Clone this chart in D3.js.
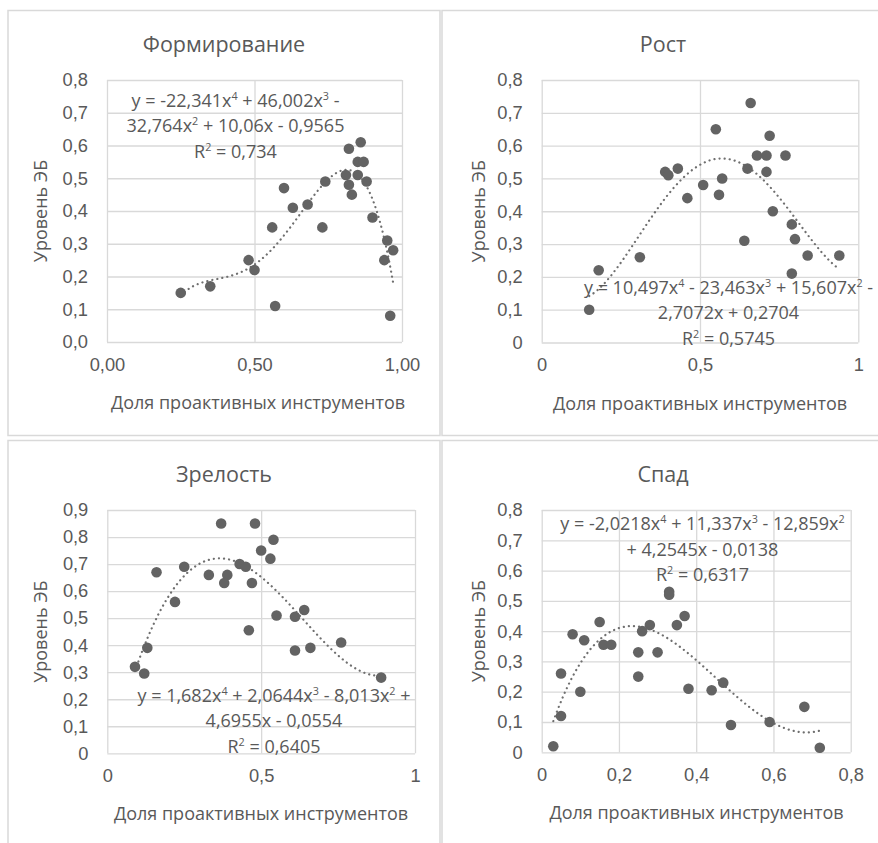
<!DOCTYPE html>
<html>
<head>
<meta charset="utf-8">
<script src="https://cdn.jsdelivr.net/npm/d3@7"></script>
<style>
  html, body { margin: 0; padding: 0; background: #fff; }
  svg { display: block; font-family: "Open Sans", "Noto Sans", sans-serif; }
</style>
</head>
<body>
<svg id="chart" width="878" height="843"></svg>
<script>
// ---------- DATA ----------
const titles = ["Формирование", "Рост", "Зрелость", "Спад"];
const xAxisTitle = "Доля проактивных инструментов";
const yAxisTitle = "Уровень ЭБ";

// Формирование
const formX = [0.60,0.63,0.68,0.74,0.82,0.86,0.85,0.87,0.81,0.85,0.82,0.83,0.88,0.90,0.56,0.73,0.95,0.97,0.94,0.48,0.50,0.35,0.25,0.57,0.96];
const formY = [0.47,0.41,0.42,0.49,0.59,0.61,0.55,0.55,0.51,0.51,0.48,0.45,0.49,0.38,0.35,0.35,0.31,0.28,0.25,0.25,0.22,0.17,0.15,0.11,0.08];
const formCoef = [-0.9565, 10.06, -32.764, 46.002, -22.341];
const formEq = ["y = -22,341x^4 + 46,002x^3 -", "32,764x^2 + 10,06x - 0,9565", "R^2 = 0,734"];

// Рост
const growX = [0.66,0.55,0.72,0.68,0.71,0.77,0.65,0.71,0.57,0.51,0.56,0.46,0.39,0.40,0.43,0.73,0.79,0.80,0.64,0.31,0.84,0.94,0.18,0.79,0.15];
const growY = [0.73,0.65,0.63,0.57,0.57,0.57,0.53,0.52,0.50,0.48,0.45,0.44,0.52,0.51,0.53,0.40,0.36,0.315,0.31,0.26,0.265,0.265,0.22,0.21,0.10];
const growCoef = [0.2704, -2.7072, 15.607, -23.463, 10.497];
const growEq = ["y = 10,497x^4 - 23,463x^3 + 15,607x^2 -", "2,7072x + 0,2704", "R^2 = 0,5745"];

// Зрелость
const matX = [0.37,0.48,0.54,0.50,0.53,0.43,0.45,0.25,0.16,0.33,0.39,0.38,0.47,0.22,0.55,0.61,0.64,0.46,0.76,0.66,0.61,0.13,0.09,0.12,0.89];
const matY = [0.85,0.85,0.79,0.75,0.72,0.70,0.69,0.69,0.67,0.66,0.66,0.63,0.63,0.56,0.51,0.505,0.53,0.455,0.41,0.39,0.38,0.39,0.32,0.295,0.28];
const matCoef = [-0.0554, 4.6955, -8.013, 2.0644, 1.682];
const matEq = ["y = 1,682x^4 + 2,0644x^3 - 8,013x^2 +", "4,6955x - 0,0554", "R^2 = 0,6405"];

// Спад
const declX = [0.33,0.33,0.37,0.35,0.28,0.26,0.15,0.08,0.11,0.16,0.18,0.25,0.30,0.05,0.25,0.10,0.38,0.44,0.47,0.49,0.05,0.59,0.68,0.03,0.72];
const declY = [0.53,0.52,0.45,0.42,0.42,0.40,0.43,0.39,0.37,0.355,0.355,0.33,0.33,0.26,0.25,0.20,0.21,0.205,0.23,0.09,0.12,0.10,0.15,0.02,0.015];
const declCoef = [-0.0138, 4.2545, -12.859, 11.337, -2.0218];
const declEq = ["y = -2,0218x^4 + 11,337x^3 - 12,859x^2", "+ 4,2545x - 0,0138", "R^2 = 0,6317"];

// Ticks
const xTicks1 = [0, 0.5, 1];       const xLabels1 = ["0,00", "0,50", "1,00"];
const xTicks2 = [0, 0.5, 1];       const xLabels2 = ["0", "0,5", "1"];
const xTicks4 = [0, 0.2, 0.4, 0.6, 0.8]; const xLabels4 = ["0", "0,2", "0,4", "0,6", "0,8"];
const yTicks8 = [0,0.1,0.2,0.3,0.4,0.5,0.6,0.7,0.8];
const yLabels1 = ["0,0","0,1","0,2","0,3","0,4","0,5","0,6","0,7","0,8"];
const yLabels8 = ["0","0,1","0,2","0,3","0,4","0,5","0,6","0,7","0,8"];
const yTicks9 = [0,0.1,0.2,0.3,0.4,0.5,0.6,0.7,0.8,0.9];
const yLabels9 = ["0","0,1","0,2","0,3","0,4","0,5","0,6","0,7","0,8","0,9"];

// ---------- LAYOUT ----------
const panels = [
  { title: titles[0], xs: formX, ys: formY, coef: formCoef, eq: formEq,
    box: [8, 10.5, 432, 425], plot: {l:107, r:402, t:80, b:342},
    xDom: [0,1], yDom: [0,0.8], xT: xTicks1, xL: xLabels1, yT: yTicks8, yL: yLabels1,
    titleX: 224, titleY: 43, yTitleX: 40, eqX: 235.5, eqY: 100, xTitleX: 258 },
  { title: titles[1], xs: growX, ys: growY, coef: growCoef, eq: growEq,
    box: [442, 10.5, 442, 425], plot: {l:541.7, r:858.3, t:80, b:342.5},
    xDom: [0,1], yDom: [0,0.8], xT: xTicks2, xL: xLabels2, yT: yTicks8, yL: yLabels8,
    titleX: 663, titleY: 43, yTitleX: 478, eqX: 728.5, eqY: 287, xTitleX: 700 },
  { title: titles[2], xs: matX, ys: matY, coef: matCoef, eq: matEq,
    box: [8, 440.5, 432, 425], plot: {l:107.3, r:415, t:510, b:753.3},
    xDom: [0,1], yDom: [0,0.9], xT: xTicks2, xL: xLabels2, yT: yTicks9, yL: yLabels9,
    titleX: 224, titleY: 473.3, yTitleX: 40, eqX: 274, eqY: 695, xTitleX: 261 },
  { title: titles[3], xs: declX, ys: declY, coef: declCoef, eq: declEq,
    box: [442, 440.5, 442, 425], plot: {l:541.7, r:850.7, t:510, b:752.3},
    xDom: [0,0.8], yDom: [0,0.8], xT: xTicks4, xL: xLabels4, yT: yTicks8, yL: yLabels8,
    titleX: 663, titleY: 473.3, yTitleX: 478, eqX: 702.5, eqY: 523.3, xTitleX: 696.5 }
];

const TEXT = "#595959", GRID = "#d9d9d9", MARK = "#636363";
const FS_TICK = 18.3, FS_AXIS = 18, FS_TITLE = 21.5, FS_EQ = 18;
const svg = d3.select("#chart");

function poly(c, x) { return c[0] + c[1]*x + c[2]*x*x + c[3]*x*x*x + c[4]*x*x*x*x; }

function eqLine(sel, str, fs) {
  const parts = str.split(/\^(\d)/);
  parts.forEach((p, i) => {
    if (i % 2 === 0) {
      if (p.length) sel.append("tspan").attr("font-size", fs).attr("dy", i > 0 ? 7 : 0).text(p);
      else if (i > 0) sel.append("tspan").attr("dy", 7).text("");
    } else {
      sel.append("tspan").attr("font-size", fs * 0.6).attr("dy", -7).text(p);
    }
  });
}

panels.forEach(P => {
  const g = svg.append("g");
  g.append("rect").attr("x", P.box[0]).attr("y", P.box[1]).attr("width", P.box[2]).attr("height", P.box[3])
    .attr("fill", "#fff").attr("stroke", GRID).attr("stroke-width", 1.5);

  const x = d3.scaleLinear().domain(P.xDom).range([P.plot.l, P.plot.r]);
  const y = d3.scaleLinear().domain(P.yDom).range([P.plot.b, P.plot.t]);
  const w = P.plot.r - P.plot.l, h = P.plot.b - P.plot.t;

  const ya = g.append("g").attr("transform", `translate(${P.plot.l},0)`)
    .call(d3.axisLeft(y).tickValues(P.yT).tickSize(-w).tickPadding(19).tickFormat((d, i) => P.yL[i]));
  ya.select(".domain").remove();
  ya.selectAll("line").attr("stroke", GRID).attr("stroke-width", 1.3);
  ya.selectAll("text").attr("fill", TEXT).attr("font-size", FS_TICK).attr("font-family", null);

  const xa = g.append("g").attr("transform", `translate(0,${P.plot.b})`)
    .call(d3.axisBottom(x).tickValues(P.xT).tickSize(-h).tickPadding(16).tickFormat((d, i) => P.xL[i]));
  xa.select(".domain").remove();
  xa.selectAll("line").attr("stroke", GRID).attr("stroke-width", 1.3);
  xa.selectAll("text").attr("fill", TEXT).attr("font-size", FS_TICK).attr("font-family", null);

  g.append("text").attr("x", P.titleX).attr("y", P.titleY).attr("text-anchor", "middle")
    .attr("dominant-baseline", "central").attr("fill", TEXT).attr("font-size", FS_TITLE).text(P.title);
  g.append("text").attr("x", P.xTitleX).attr("y", P.plot.b + 60).attr("text-anchor", "middle")
    .attr("dominant-baseline", "central").attr("fill", TEXT).attr("font-size", FS_AXIS).text(xAxisTitle);
  g.append("text").attr("transform", `translate(${P.yTitleX},${(P.plot.t + P.plot.b) / 2}) rotate(-90)`)
    .attr("text-anchor", "middle").attr("dominant-baseline", "central").attr("fill", TEXT)
    .attr("font-size", FS_AXIS).text(yAxisTitle);

  // trendline from the displayed polynomial equation
  const xmin = d3.min(P.xs), xmax = d3.max(P.xs);
  const tx = d3.range(0, 101).map(i => xmin + (xmax - xmin) * i / 100);
  g.append("path").datum(tx)
    .attr("d", d3.line().x(d => x(d)).y(d => y(poly(P.coef, d))))
    .attr("fill", "none").attr("stroke", "#6f6f6f").attr("stroke-width", 2.2)
    .attr("stroke-dasharray", "0.1,5").attr("stroke-linecap", "round");

  g.append("g").selectAll("circle").data(P.xs.map((v, i) => [v, P.ys[i]])).join("circle")
    .attr("cx", d => x(d[0])).attr("cy", d => y(d[1])).attr("r", 5.3).attr("fill", MARK);

  P.eq.forEach((line, i) => {
    const t = g.append("text").attr("x", P.eqX).attr("y", P.eqY + i * 25.8 + 6.5)
      .attr("text-anchor", "middle").attr("fill", TEXT).attr("font-size", FS_EQ);
    eqLine(t, line, FS_EQ);
  });
});
</script>
</body>
</html>
